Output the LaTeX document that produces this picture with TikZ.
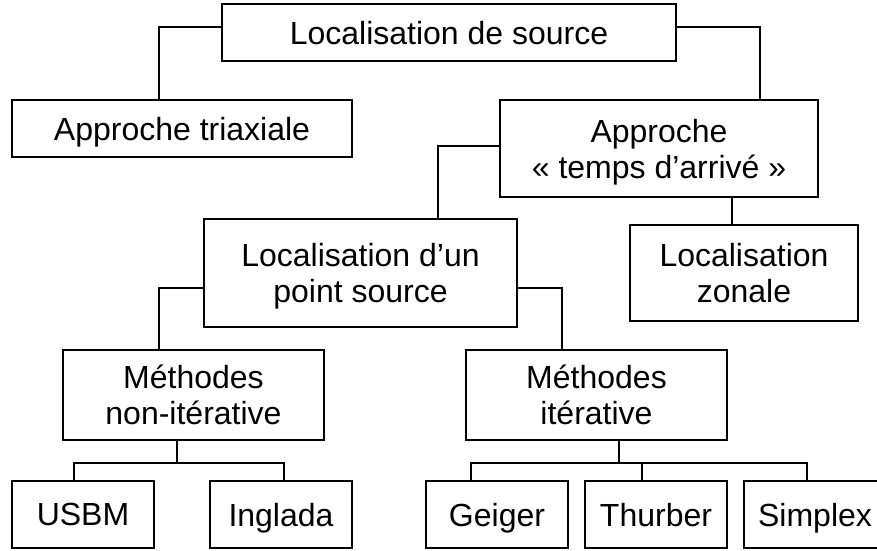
\documentclass[tikz,border=0pt]{standalone}
\usepackage{fontspec}
\setmainfont{Liberation Sans}
\begin{document}
\begin{tikzpicture}[x=1pt,y=-1pt,
  box/.style={draw=black, line width=1.3pt, fill=white, inner sep=0pt, align=center,
    text depth=0pt, font=\fontsize{32}{36}\selectfont},
  link/.style={draw=black, line width=1.3pt}]
\useasboundingbox (0,0) rectangle (877,550);
\clip (0,0) rectangle (877,550);
\fill[white] (0,0) rectangle (877,550);
% boxes
\node[box, minimum width=454pt, minimum height=57pt] (src) at (449,32.5) {Localisation de source};
\node[box, minimum width=340pt, minimum height=57pt] (tri) at (182,128.5) {Approche triaxiale};
\node[box, minimum width=318pt, minimum height=97pt] (tps) at (659,148.5) {Approche\\« temps d’arrivé »};
\node[box, minimum width=313pt, minimum height=108pt] (pt) at (360.5,273) {Localisation d’un\\point source};
\node[box, minimum width=228pt, minimum height=96pt] (zon) at (744,273) {Localisation\\zonale};
\node[box, minimum width=261pt, minimum height=90pt] (nit) at (193.5,395) {Méthodes\\non-itérative};
\node[box, minimum width=261pt, minimum height=90pt] (it) at (596.5,395) {Méthodes\\itérative};
\node[box, minimum width=142pt, minimum height=67pt] (usbm) at (83,514.5) {USBM};
\node[box, minimum width=142pt, minimum height=67pt] (ing) at (281,514.5) {Inglada};
\node[box, minimum width=142pt, minimum height=67pt] (gei) at (497,514.5) {Geiger};
\node[box, minimum width=142pt, minimum height=67pt] (thu) at (656,514.5) {Thurber};
\node[box, minimum width=142pt, minimum height=67pt] (sim) at (815,514.5) {Simplex};
% connectors
\draw[link] ([yshift=5.5pt]src.west) -| ([xshift=-23pt]tri.north);
\draw[link] ([yshift=5.5pt]src.east) -| ([xshift=101pt]tps.north);
\draw[link] ([yshift=2.5pt]tps.west) -| ([xshift=77.5pt]pt.north);
\draw[link] ([xshift=73pt]tps.south) -- ([xshift=-12pt]zon.north);
\draw[link] ([yshift=-15pt]pt.west) -| ([xshift=-34.5pt]nit.north);
\draw[link] ([yshift=-15pt]pt.east) -| ([xshift=-34.5pt]it.north);
\coordinate (busA) at (177,463);
\coordinate (busB) at (619,463);
\draw[link] ([xshift=-16.5pt]nit.south) -- (busA);
\draw[link] ([xshift=-9pt]usbm.north) |- (busA) -| ([xshift=3pt]ing.north);
\draw[link] ([xshift=22.5pt]it.south) -- (busB);
\draw[link] ([xshift=-26pt]gei.north) |- (busB) -| ([xshift=-8pt]sim.north);
\draw[link] ([xshift=-14pt]thu.north) -- ([xshift=-14pt]thu.north |- busB);
\end{tikzpicture}
\end{document}
